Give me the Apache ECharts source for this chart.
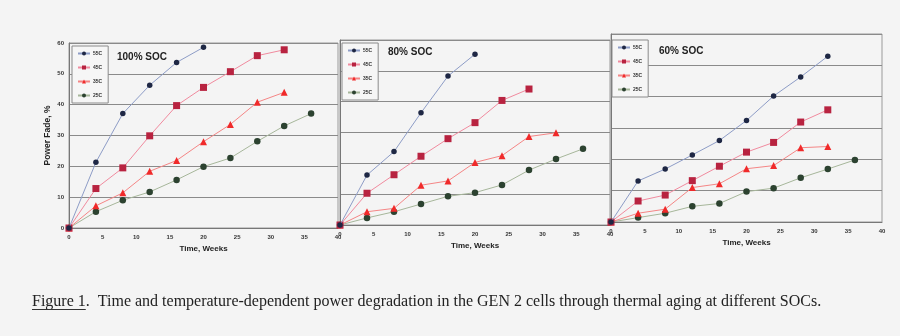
<!DOCTYPE html>
<html>
<head>
<meta charset="utf-8">
<script src="https://cdn.jsdelivr.net/npm/echarts@6/dist/echarts.min.js"></script>
<style>
html,body{margin:0;padding:0;background:#f4f4f4;}
#c{width:900px;height:336px;}
</style>
</head>
<body>
<div id="c"></div>
<script>
// ---- data ----
const weeks = [0, 4, 8, 12, 16, 20, 24, 28, 32, 36];
const seriesNames = ['55C', '45C', '35C', '25C'];
const panelTitles = ['100% SOC', '80% SOC', '60% SOC'];
const xTicks = [0, 5, 10, 15, 20, 25, 30, 35, 40];
const yTicks = [0, 10, 20, 30, 40, 50, 60];

const soc100_55C = [0, 21.3, 37.1, 46.3, 53.7, 58.6];
const soc100_45C = [0, 12.8, 19.5, 29.9, 39.7, 45.6, 50.7, 55.9, 57.8];
const soc100_35C = [0, 7.2, 11.4, 18.4, 21.9, 28.0, 33.6, 40.8, 44.0];
const soc100_25C = [0, 5.3, 9.0, 11.7, 15.6, 19.9, 22.7, 28.1, 33.1, 37.1];

const soc80_55C = [0, 16.2, 23.8, 36.4, 48.3, 55.4];
const soc80_45C = [0, 10.3, 16.3, 22.3, 28.0, 33.2, 40.4, 44.1];
const soc80_35C = [0, 4.3, 5.4, 12.9, 14.3, 20.3, 22.5, 28.7, 29.9];
const soc80_25C = [0, 2.3, 4.3, 6.8, 9.3, 10.5, 13.0, 17.8, 21.4, 24.7];

const soc60_55C = [0, 13.1, 16.9, 21.4, 26.0, 32.4, 40.2, 46.3, 52.9];
const soc60_45C = [0, 6.7, 8.6, 13.2, 17.8, 22.3, 25.4, 31.9, 35.8];
const soc60_35C = [0, 2.8, 4.1, 11.0, 12.2, 17.0, 18.0, 23.7, 24.1];
const soc60_25C = [0, 1.4, 2.8, 5.0, 5.9, 9.7, 10.8, 14.1, 16.9, 19.8];

const panels = [
  [soc100_55C, soc100_45C, soc100_35C, soc100_25C],
  [soc80_55C, soc80_45C, soc80_35C, soc80_25C],
  [soc60_55C, soc60_45C, soc60_35C, soc60_25C]
];

const figLabel = 'Figure 1';
const caption = 'Time and temperature-dependent power degradation in the GEN 2 cells through thermal aging at different SOCs.';

// ---- styles ----
const styles = [
  {symbol: 'circle', size: 5.5, marker: '#1e2744', line: '#8d9cc6'},
  {symbol: 'rect', size: 7, marker: '#b82340', line: '#f08a9e'},
  {symbol: 'triangle', size: 7, marker: '#f02a2a', line: '#f48585'},
  {symbol: 'circle', size: 6.5, marker: '#2c4230', line: '#a6b69a'}
];
const grids = [
  {left: 69, top: 43, width: 269, height: 185},
  {left: 340, top: 40, width: 270, height: 185},
  {left: 611, top: 34, width: 271, height: 188}
];
const legendPos = [{left: 72, top: 46}, {left: 342, top: 43}, {left: 612, top: 40}];
const titlePos = [{left: 117, top: 52}, {left: 388, top: 47}, {left: 659, top: 46}];

const font = 'Liberation Sans, Arial, sans-serif';
const capFont = '16px "Liberation Serif", "Times New Roman", serif';
const mctx = document.createElement('canvas').getContext('2d');
mctx.font = capFont;
const figW = mctx.measureText(figLabel).width;
const capX = 32, capY = 294;

const chart = echarts.init(document.getElementById('c'), null, {renderer: 'canvas'});

const option = {
  backgroundColor: '#f4f4f4',
  animation: false,
  grid: grids.map(g => Object.assign({show: true, borderColor: '#9a9a9a', borderWidth: 1, backgroundColor: 'transparent'}, g)),
  xAxis: grids.map((g, i) => ({
    type: 'value', gridIndex: i, min: 0, max: 40, interval: 5,
    name: 'Time, Weeks', nameLocation: 'middle', nameGap: 13,
    nameTextStyle: {fontFamily: font, fontWeight: 'bold', fontSize: 8, color: '#222'},
    axisLine: {show: true, lineStyle: {color: '#777', width: 1}},
    axisTick: {show: false},
    splitLine: {show: false},
    axisLabel: {fontFamily: font, fontWeight: 'bold', fontSize: 6, color: '#333', margin: 6,
      formatter: v => xTicks.indexOf(v) >= 0 ? String(v) : ''}
  })),
  yAxis: grids.map((g, i) => ({
    type: 'value', gridIndex: i, min: 0, max: 60, interval: 10,
    name: i === 0 ? 'Power Fade, %' : '', nameLocation: 'middle', nameGap: 17,
    nameTextStyle: {fontFamily: font, fontWeight: 'bold', fontSize: 8.5, color: '#222'},
    axisLine: {show: true, lineStyle: {color: '#777', width: 1}},
    axisTick: {show: false},
    splitLine: {show: true, lineStyle: {color: '#8a8a8a', width: 1}},
    axisLabel: {show: i === 0, fontFamily: font, fontWeight: 'bold', fontSize: 6, color: '#333', margin: 5,
      formatter: v => yTicks.indexOf(v) >= 0 ? String(v) : ''}
  })),
  legend: legendPos.map((p, i) => ({
    left: p.left, top: p.top, orient: 'vertical',
    data: seriesNames,
    itemWidth: 12, itemHeight: 5, itemGap: 9,
    padding: [5, 6, 5, 5],
    borderColor: '#8a8a8a', borderWidth: 1, backgroundColor: '#f6f6f6',
    textStyle: {fontFamily: font, fontWeight: 'bold', fontSize: 5, color: '#333', padding: [0, 0, 0, -2]},
    selectedMode: false
  })),
  title: titlePos.map((p, i) => ({
    text: panelTitles[i], left: p.left, top: p.top, padding: 0,
    textStyle: {fontFamily: font, fontWeight: 'bold', fontSize: 10, color: '#222'}
  })),
  series: [],
  graphic: [
    {type: 'text', left: capX, top: capY, style: {text: figLabel, font: capFont, fill: '#222'}},
    {type: 'text', left: capX + figW, top: capY, style: {text: '.  ' + caption, font: capFont, fill: '#222'}},
    {type: 'line', shape: {x1: capX, y1: capY + 15.5, x2: capX + figW, y2: capY + 15.5}, style: {stroke: '#333', lineWidth: 1}}
  ]
};

panels.forEach((pdata, pi) => {
  pdata.forEach((vals, si) => {
    const st = styles[si];
    option.series.push({
      name: seriesNames[si], type: 'line',
      xAxisIndex: pi, yAxisIndex: pi,
      data: vals.map((v, k) => [weeks[k], v]),
      symbol: st.symbol, symbolSize: st.size,
      lineStyle: {color: st.line, width: 1},
      itemStyle: {color: st.marker},
      z: 10 - si
    });
  });
});

chart.setOption(option);
</script>
</body>
</html>
